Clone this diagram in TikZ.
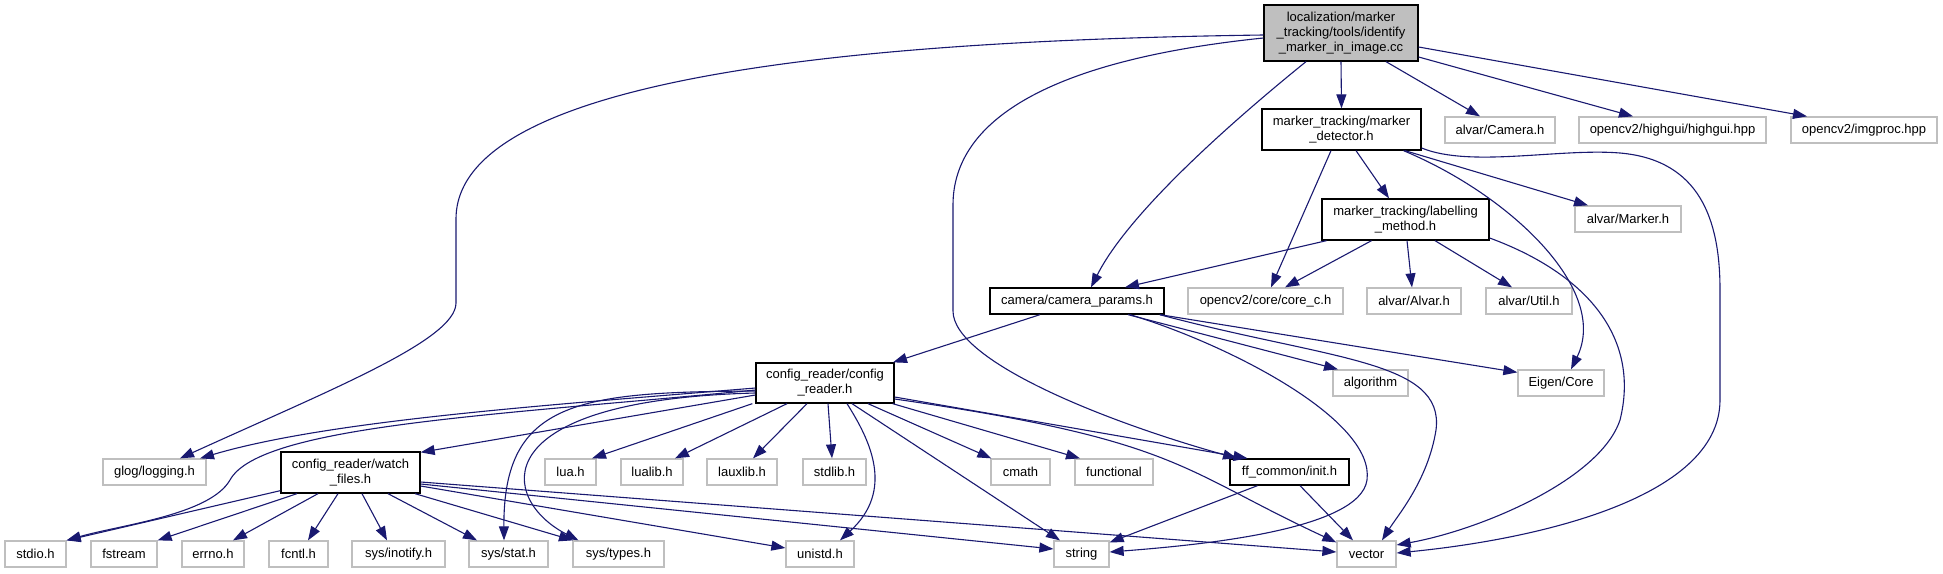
\documentclass[tikz,border=0pt]{standalone}
\usepackage{fontspec}
\setmainfont{Liberation Sans}
\usetikzlibrary{arrows.meta}
\definecolor{edgeblue}{HTML}{191970}
\definecolor{grey75}{HTML}{BFBFBF}
\tikzset{
  box/.style={rectangle, inner sep=0pt, align=center, minimum height=26pt, line width=1.3pt,
    font=\fontsize{13}{15}\selectfont},
  docbox/.style={box, draw=black, fill=white},
  extbox/.style={box, draw=grey75, fill=white},
  rootbox/.style={box, draw=black, fill=grey75},
  dep/.style={draw=edgeblue, line width=1.1pt, -{Triangle[length=14pt,width=10pt]}},
}
\begin{document}
\begin{tikzpicture}[x=1pt,y=-1pt]
\useasboundingbox (0,0) rectangle (1943,573);
% nodes
\node[rootbox, minimum width=154pt, minimum height=56pt] (root) at (1341,33) {localization/marker\\\_tracking/tools/identify\\\_marker\_in\_image.cc};
\node[docbox, minimum width=159pt, minimum height=41pt] (mdet) at (1341.5,129.5) {marker\_tracking/marker\\\_detector.h};
\node[extbox, minimum width=110pt] (camh) at (1500,130) {alvar/Camera.h};
\node[extbox, minimum width=187pt] (highgui) at (1672.5,130) {opencv2/highgui/highgui.hpp};
\node[extbox, minimum width=146pt] (imgproc) at (1864,130) {opencv2/imgproc.hpp};
\node[docbox, minimum width=167pt, minimum height=41pt] (label) at (1405.5,219.5) {marker\_tracking/labelling\\\_method.h};
\node[extbox, minimum width=106pt] (markerh) at (1628,219) {alvar/Marker.h};
\node[docbox, minimum width=174pt] (camparams) at (1077,301) {camera/camera\_params.h};
\node[extbox, minimum width=155pt] (corec) at (1265.5,301) {opencv2/core/core\_c.h};
\node[extbox, minimum width=94pt] (alvarh) at (1414,301) {alvar/Alvar.h};
\node[extbox, minimum width=86pt] (utilh) at (1529,301) {alvar/Util.h};
\node[extbox, minimum width=75pt] (algorithm) at (1370.5,383) {algorithm};
\node[extbox, minimum width=86pt] (eigen) at (1561,383) {Eigen/Core};
\node[docbox, minimum width=138pt, minimum height=40pt] (config) at (825,383) {config\_reader/config\\\_reader.h};
\node[extbox, minimum width=103pt] (glog) at (154.5,472) {glog/logging.h};
\node[docbox, minimum width=139pt, minimum height=41pt] (watch) at (350.5,472.5) {config\_reader/watch\\\_files.h};
\node[extbox, minimum width=51pt] (lua) at (570.5,472) {lua.h};
\node[extbox, minimum width=62pt] (lualib) at (652,472) {lualib.h};
\node[extbox, minimum width=70pt] (lauxlib) at (742,472) {lauxlib.h};
\node[extbox, minimum width=63pt] (stdlib) at (834.5,472) {stdlib.h};
\node[extbox, minimum width=59pt] (cmath) at (1020.5,472) {cmath};
\node[extbox, minimum width=78pt] (functional) at (1114,472) {functional};
\node[docbox, minimum width=119pt] (ffinit) at (1289.5,472) {ff\_common/init.h};
\node[extbox, minimum width=61pt] (stdio) at (35.5,554) {stdio.h};
\node[extbox, minimum width=66pt] (fstream) at (124,554) {fstream};
\node[extbox, minimum width=62pt] (errno) at (213,554) {errno.h};
\node[extbox, minimum width=59pt] (fcntl) at (298.5,554) {fcntl.h};
\node[extbox, minimum width=93pt] (inotify) at (398.5,554) {sys/inotify.h};
\node[extbox, minimum width=79pt] (stat) at (508.5,554) {sys/stat.h};
\node[extbox, minimum width=91pt] (types) at (618.5,554) {sys/types.h};
\node[extbox, minimum width=68pt] (unistd) at (820,554) {unistd.h};
\node[extbox, minimum width=55pt] (string) at (1081.5,554) {string};
\node[extbox, minimum width=59pt] (vector) at (1366.5,554) {vector};
% edges from root
\draw[dep] ([yshift=-2pt]root.west) .. controls (900,40) and (456,70) .. (456,219) -- (456,303) .. controls (456,340) and (330,390) .. ([xshift=25.5pt]glog.north);
\draw[dep] ([xshift=-35pt]root.south) .. controls (1240,115) and (1130,210) .. ([xshift=14pt]camparams.north);
\draw[dep] (root.south) -- (mdet.north);
\draw[dep] ([xshift=45pt]root.south) -- ([xshift=-20pt]camh.north);
\draw[dep] ([yshift=-24pt]root.east) -- ([xshift=-39.5pt]highgui.north);
\draw[dep] ([yshift=-14pt]root.east) -- ([xshift=-57pt]imgproc.north);
\draw[dep] ([yshift=-5pt]root.west) .. controls (1050,60) and (953,120) .. (953,205) -- (953,311) .. controls (953,360) and (1100,420) .. ([xshift=-52.5pt]ffinit.north);
% marker detector
\draw[dep] ([xshift=14.5pt]mdet.south) -- ([xshift=-16.5pt]label.north);
\draw[dep] ([xshift=-10.5pt]mdet.south) -- ([xshift=5.5pt]corec.north);
\draw[dep] ([xshift=63.5pt]mdet.south) -- ([xshift=-40pt]markerh.north);
\draw[dep] ([xshift=62pt]mdet.south) .. controls (1510,195) and (1610,290) .. ([xshift=10pt]eigen.north);
\draw[dep] ([yshift=-18.5pt]mdet.east) .. controls (1470,168) and (1560,148) .. (1620,153) .. controls (1700,160) and (1720,220) .. (1720,290) -- (1720,400) .. controls (1720,500) and (1530,540) .. ([yshift=1pt]vector.east);
% labelling method
\draw[dep] ([xshift=-79pt]label.south) -- ([xshift=48pt]camparams.north);
\draw[dep] ([xshift=-34pt]label.south) -- ([xshift=19.5pt]corec.north);
\draw[dep] ([xshift=1.5pt]label.south) -- ([xshift=-2pt]alvarh.north);
\draw[dep] ([xshift=29.5pt]label.south) -- ([xshift=-17pt]utilh.north);
\draw[dep] ([yshift=-18.5pt]label.east) .. controls (1590,275) and (1640,340) .. (1620,420) .. controls (1600,480) and (1480,530) .. ([yshift=9pt]vector.east);
% camera params
\draw[dep] ([xshift=-37pt]camparams.south) -- ([xshift=68pt]config.north);
\draw[dep] ([xshift=51pt]camparams.south) -- ([xshift=-32.5pt]algorithm.north);
\draw[dep] ([xshift=83pt]camparams.south) -- ([yshift=-3pt]eigen.north west);
\draw[dep] ([xshift=53pt]camparams.south) .. controls (1230,345) and (1375,420) .. (1367,480) .. controls (1360,530) and (1200,545) .. ([yshift=2pt]string.east);
\draw[dep] ([xshift=-5pt]camparams.south east) .. controls (1330,360) and (1445,360) .. (1436,430) .. controls (1428,480) and (1398,515) .. ([xshift=15.5pt]vector.north);
% config reader
\draw[dep] ([yshift=-5pt]config.west) .. controls (550,405) and (330,420) .. ([xshift=45.5pt]glog.north);
\draw[dep] ([yshift=-7pt]config.west) .. controls (500,415) and (260,425) .. (230,480) .. controls (210,515) and (120,525) .. (stdio.north east);
\draw[dep] ([yshift=-12pt]config.west) -- ([yshift=-1pt]watch.north east);
\draw[dep] ([yshift=-8pt]config.west) .. controls (580,392) and (503,400) .. ([xshift=-4.5pt]stat.north);
\draw[dep] ([yshift=-10pt]config.west) .. controls (480,400) and (500,500) .. ([xshift=-40pt]types.north);
\draw[dep] ([xshift=-3pt]config.south west) -- ([xshift=21.5pt]lua.north);
\draw[dep] ([xshift=-38pt]config.south) -- ([xshift=23pt]lualib.north);
\draw[dep] ([xshift=-18pt]config.south) -- ([xshift=11pt]lauxlib.north);
\draw[dep] ([xshift=3pt]config.south) -- ([xshift=-2.5pt]stdlib.north);
\draw[dep] ([xshift=22pt]config.south) .. controls (870,440) and (895,490) .. ([xshift=20pt]unistd.north);
\draw[dep] ([xshift=27pt]config.south) -- ([xshift=-21.5pt]string.north);
\draw[dep] ([xshift=43pt]config.south) -- ([xshift=1pt]cmath.north west);
\draw[dep] ([xshift=-2pt]config.south east) -- ([xshift=-34pt]functional.north);
\draw[dep] ([yshift=-14pt]config.east) -- ([xshift=-42pt]ffinit.north);
\draw[dep] ([yshift=-16pt]config.east) .. controls (1180,440) and (1180,470) .. ([yshift=-2pt]vector.north west);
% watch files
\draw[dep] ([yshift=3pt]watch.south west) -- (stdio.north east);
\draw[dep] ([xshift=-53.5pt]watch.south) -- (fstream.north east);
\draw[dep] ([xshift=-32.5pt]watch.south) -- ([xshift=20pt]errno.north);
\draw[dep] ([xshift=-12.5pt]watch.south) -- ([xshift=9.5pt]fcntl.north);
\draw[dep] ([xshift=11.5pt]watch.south) -- ([xshift=-11.5pt]inotify.north);
\draw[dep] ([xshift=37.5pt]watch.south) -- ([xshift=-31.5pt]stat.north);
\draw[dep] ([xshift=64.5pt]watch.south) -- ([xshift=-45.5pt]types.north);
\draw[dep] ([yshift=-13.5pt]watch.east) -- ([yshift=6pt]unistd.west);
\draw[dep] ([yshift=-11.5pt]watch.east) -- ([yshift=5pt]string.west);
\draw[dep] ([yshift=-9.5pt]watch.east) -- ([yshift=2pt]vector.west);
% ff_common init
\draw[dep] ([xshift=-32pt]ffinit.south) -- ([yshift=-2pt]string.north east);
\draw[dep] ([xshift=10.5pt]ffinit.south) -- ([xshift=-13.5pt]vector.north);
\end{tikzpicture}
\end{document}
